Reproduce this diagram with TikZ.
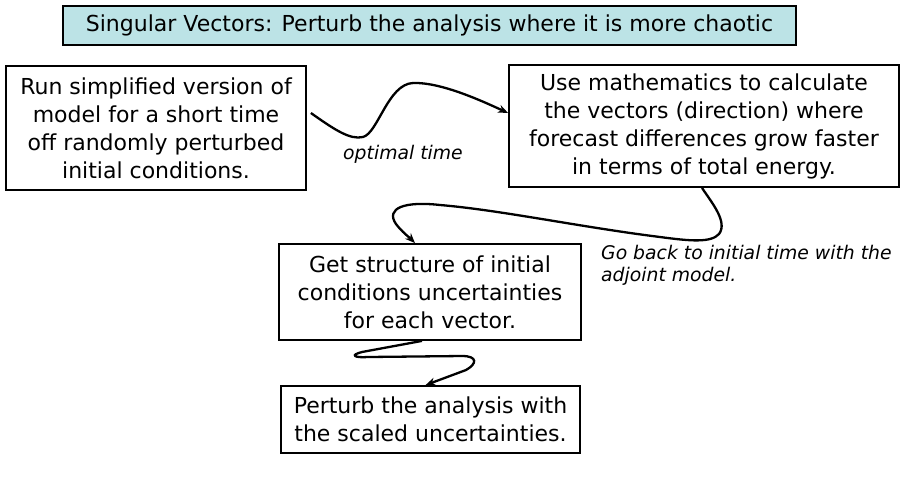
\documentclass[tikz,border=0pt]{standalone}
\usepackage{fontspec}
\setmainfont{DejaVu Sans}
\usetikzlibrary{arrows.meta}
\definecolor{titlefill}{RGB}{188,227,230}
\tikzset{
  boxnode/.style={draw=black, line width=1.8pt, align=center, inner sep=0pt,
    font=\fontsize{22pt}{28pt}\selectfont},
  titlenode/.style={boxnode, fill=titlefill, line width=1.6pt},
  lbl/.style={inner sep=0pt, font=\fontsize{18.8pt}{22pt}\selectfont\itshape},
  flow/.style={line width=2.3pt, -{Stealth[length=10pt,width=8pt]}}
}
\begin{document}
\begin{tikzpicture}[x=1pt,y=-1pt]
\useasboundingbox (0,0) rectangle (901,480);
\node[titlenode, minimum width=733pt, minimum height=39pt] (t) at (429.5,25.5)
  {Singular Vectors: Perturb the analysis where it is more chaotic};
\node[boxnode, minimum width=300pt, minimum height=124pt] (b1) at (156,128)
  {Run simplified version of\\model for a short time\\off randomly perturbed\\initial conditions.};
\node[boxnode, minimum width=390pt, minimum height=122pt] (b2) at (704,126)
  {Use mathematics to calculate\\the vectors (direction) where\\forecast differences grow faster\\in terms of total energy.};
\node[boxnode, minimum width=302pt, minimum height=96pt] (b3) at (430,292)
  {Get structure of initial\\conditions uncertainties\\for each vector.};
\node[boxnode, minimum width=299pt, minimum height=67pt] (b4) at (430.5,419.5)
  {Perturb the analysis with\\the scaled uncertainties.};
\node[lbl] (l1) at (403,154) {optimal time};
\node[lbl, anchor=west, align=left] (l2) at (601,265) {Go back to initial time with the\\adjoint model.};

\draw[flow] ([xshift=4pt,yshift=15pt]b1.east)
  .. controls (335,130) and (350,140) .. (363,137)
  .. controls (378,133) and (388,84) .. (413,83)
  .. controls (440,82) and (480,100) .. ([yshift=13pt]b2.west);
\draw[flow] ([xshift=-2pt]b2.south)
  .. controls (712,203) and (728,222) .. (719,234)
  .. controls (711,243) and (690,241) .. (660,237)
  .. controls (580,227) and (500,210) .. (440,205)
  .. controls (405,201) and (385,208) .. (396,224)
  .. controls (402,232) and (410,238) .. ([xshift=-15pt]b3.north);
\draw[flow] ([xshift=-8pt]b3.south)
  -- (362,352) .. controls (350,355) and (354,358) .. (368,357)
  -- (462,356) .. controls (478,356) and (477,364) .. (466,370)
  -- ([xshift=-5pt]b4.north);
\end{tikzpicture}
\end{document}
